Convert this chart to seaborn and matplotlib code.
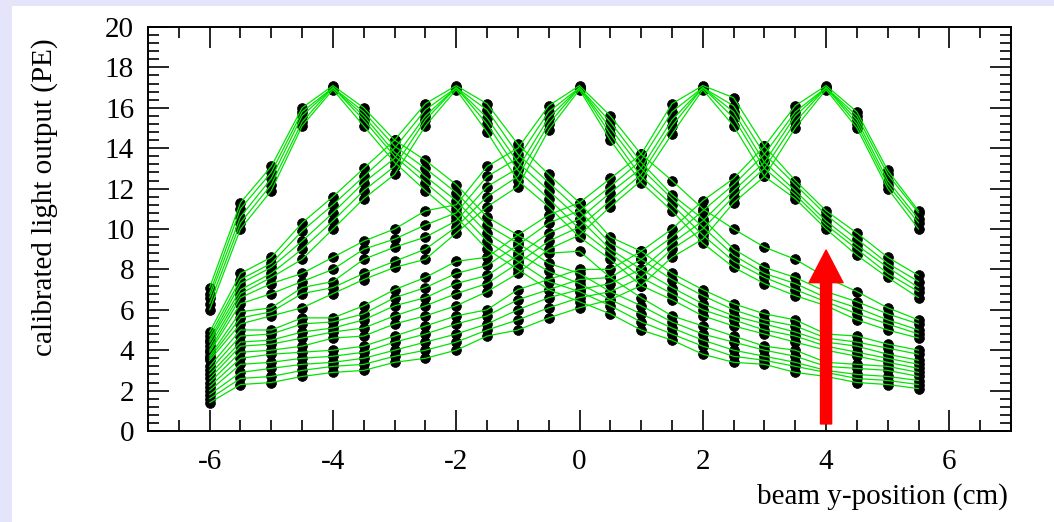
import numpy as np
import pandas as pd
import matplotlib
matplotlib.use("Agg")
import matplotlib.pyplot as plt
from matplotlib.patches import Rectangle, FancyArrowPatch
from matplotlib.ticker import MultipleLocator
import seaborn as sns

# beam positions (cm) at which the light output was measured
positions = [-6.0, -5.5, -5.0, -4.5, -4.0, -3.5, -3.0, -2.5, -2.0, -1.5, -1.0, -0.5,
             0.0, 0.5, 1.0, 1.5, 2.0, 2.5, 3.0, 3.5, 4.0, 4.5, 5.0, 5.5]

# calibrated light output (PE) per readout channel, grouped by the fibre
# position the channel peaks at
fibre_m4 = [
    [6.0, 10.0, 11.9, 15.1, 16.9, 15.1, 13.3, 11.9, 10.6, 9.0, 8.0, 7.0, 6.4, 5.8, 5.0, 4.5, 3.8, 3.4, 3.3, 2.9, 2.7, 2.4, 2.3, 2.1],
    [6.3, 10.3, 12.2, 15.3, 17.0, 15.4, 13.6, 12.3, 11.0, 9.4, 8.4, 7.4, 6.9, 6.2, 5.4, 4.8, 4.2, 3.7, 3.5, 3.2, 2.9, 2.6, 2.5, 2.3],
    [6.6, 10.6, 12.5, 15.6, 17.0, 15.6, 13.8, 12.6, 11.4, 9.8, 8.8, 7.9, 7.3, 6.5, 5.8, 5.1, 4.5, 4.0, 3.7, 3.4, 3.0, 2.8, 2.7, 2.5],
    [6.8, 11.0, 12.8, 15.8, 17.0, 15.8, 14.1, 13.0, 11.8, 10.2, 9.3, 8.3, 7.8, 6.9, 6.2, 5.4, 4.8, 4.4, 4.0, 3.7, 3.2, 3.1, 3.0, 2.7],
    [7.1, 11.3, 13.1, 16.0, 17.1, 16.0, 14.4, 13.4, 12.2, 10.6, 9.7, 8.8, 8.9, 7.6, 6.6, 5.7, 5.2, 4.7, 4.2, 4.0, 3.4, 3.3, 3.2, 2.9],
]
fibre_m2 = [
    [4.2, 6.8, 7.6, 8.5, 10.0, 11.5, 12.7, 15.1, 16.9, 14.8, 12.4, 11.1, 9.6, 8.5, 7.2, 6.5, 5.7, 5.2, 4.8, 4.4, 4.0, 3.7, 3.4, 3.1],
    [4.4, 7.0, 7.8, 9.0, 10.4, 11.9, 13.1, 15.4, 17.0, 15.2, 12.9, 11.5, 10.0, 8.8, 7.6, 6.8, 6.0, 5.5, 5.0, 4.7, 4.2, 3.9, 3.6, 3.3],
    [4.5, 7.3, 8.1, 9.4, 10.8, 12.3, 13.5, 15.6, 17.0, 15.5, 13.3, 11.9, 10.5, 9.0, 8.0, 7.1, 6.3, 5.7, 5.3, 4.9, 4.4, 4.2, 3.8, 3.5],
    [4.7, 7.5, 8.3, 9.9, 11.2, 12.6, 14.0, 15.9, 17.0, 15.9, 13.7, 12.3, 10.9, 9.3, 8.5, 7.5, 6.7, 6.0, 5.5, 5.2, 4.6, 4.4, 4.1, 3.8],
    [4.9, 7.8, 8.6, 10.3, 11.6, 13.0, 14.4, 16.2, 17.1, 16.2, 14.2, 12.7, 11.3, 9.6, 8.9, 7.8, 7.0, 6.3, 5.8, 5.5, 4.8, 4.7, 4.3, 4.0],
]
fibre_0 = [
    [3.5, 5.3, 5.7, 6.1, 6.8, 7.5, 8.1, 8.5, 9.8, 11.1, 12.1, 14.9, 16.9, 14.4, 12.3, 10.9, 9.3, 8.1, 7.3, 6.7, 6.2, 5.5, 5.0, 4.6],
    [3.6, 5.6, 5.9, 6.8, 7.1, 7.8, 8.4, 9.0, 10.1, 11.6, 12.6, 15.2, 17.0, 14.7, 12.6, 11.2, 9.7, 8.4, 7.6, 7.0, 6.4, 5.8, 5.3, 4.8],
    [3.7, 5.9, 6.1, 7.1, 7.4, 8.5, 9.1, 9.6, 10.4, 12.1, 13.0, 15.5, 17.0, 15.0, 13.0, 11.5, 10.1, 8.7, 7.8, 7.3, 6.6, 6.1, 5.5, 5.0],
    [3.9, 6.3, 6.8, 7.4, 8.0, 9.0, 9.5, 10.2, 10.8, 12.6, 13.5, 15.8, 17.0, 15.3, 13.3, 11.7, 10.5, 9.0, 8.1, 7.6, 6.9, 6.4, 5.8, 5.3],
    [4.0, 6.6, 7.3, 7.8, 8.6, 9.4, 10.0, 10.9, 11.2, 13.1, 14.0, 16.1, 17.1, 15.6, 13.7, 12.4, 11.0, 10.0, 9.1, 8.5, 7.6, 6.9, 6.1, 5.5],
]
fibre_p2 = [
    [2.4, 3.9, 4.0, 4.2, 4.6, 4.7, 5.3, 5.7, 6.2, 6.9, 7.8, 9.0, 9.7, 11.1, 12.4, 14.7, 16.9, 15.1, 12.6, 11.5, 10.0, 8.7, 7.6, 6.6],
    [2.6, 4.2, 4.3, 4.6, 4.9, 5.1, 5.7, 6.2, 6.8, 7.3, 8.3, 9.4, 10.1, 11.4, 12.7, 15.1, 17.0, 15.5, 13.0, 11.7, 10.2, 9.0, 7.8, 6.9],
    [2.8, 4.4, 4.5, 4.9, 5.1, 5.5, 6.2, 6.6, 7.3, 7.7, 8.7, 9.8, 10.5, 11.8, 13.0, 15.4, 17.0, 15.8, 13.3, 11.9, 10.4, 9.2, 8.1, 7.1],
    [3.0, 4.7, 4.8, 5.3, 5.4, 5.8, 6.6, 7.1, 7.8, 8.2, 9.2, 10.3, 10.9, 12.1, 13.4, 15.8, 17.0, 16.1, 13.7, 12.2, 10.7, 9.5, 8.3, 7.4],
    [3.2, 5.0, 5.0, 5.6, 5.6, 6.2, 7.0, 7.6, 8.4, 8.6, 9.7, 10.7, 11.3, 12.5, 13.7, 16.2, 17.1, 16.5, 14.1, 12.4, 10.9, 9.8, 8.6, 7.7],
]
fibre_p4 = [
    [1.4, 2.3, 2.4, 2.7, 2.9, 3.0, 3.4, 3.6, 4.0, 4.7, 5.0, 5.6, 6.1, 6.5, 7.2, 8.6, 9.5, 11.3, 12.6, 15.0, 16.9, 15.0, 12.0, 10.0],
    [1.6, 2.6, 2.7, 3.0, 3.2, 3.3, 3.7, 4.0, 4.4, 5.0, 5.5, 6.1, 6.6, 6.9, 7.6, 9.0, 10.0, 11.6, 13.0, 15.3, 17.0, 15.2, 12.2, 10.3],
    [1.8, 2.9, 3.1, 3.3, 3.4, 3.6, 4.0, 4.4, 4.8, 5.3, 6.0, 6.6, 7.0, 7.3, 8.0, 9.3, 10.4, 11.9, 13.3, 15.6, 17.0, 15.4, 12.4, 10.5],
    [2.0, 3.3, 3.4, 3.6, 3.7, 3.9, 4.4, 4.8, 5.3, 5.7, 6.5, 7.0, 7.5, 7.6, 8.5, 9.6, 10.9, 12.2, 13.7, 15.8, 17.0, 15.6, 12.7, 10.8],
    [2.2, 3.6, 3.8, 3.9, 4.0, 4.2, 4.7, 5.2, 5.7, 6.0, 7.0, 7.5, 8.0, 8.0, 8.9, 10.0, 11.4, 12.5, 14.1, 16.1, 17.1, 15.8, 12.9, 10.9],
]

fibre_groups = {"-4": fibre_m4, "-2": fibre_m2, "0": fibre_0, "2": fibre_p2, "4": fibre_p4}

# marked beam position
arrow_x = 4.0
arrow_from = 0.35
arrow_to = 8.96

# long-form table: one row per (channel, position)
rows = []
for fibre, channels in fibre_groups.items():
    for i, values in enumerate(channels):
        for x, v in zip(positions, values):
            rows.append({"channel": f"{fibre}_{i}", "pos": x, "pe": v})
df = pd.DataFrame(rows)

sns.set_theme(style="white")
plt.rcParams["font.family"] = ["Liberation Serif", "DejaVu Serif"]
plt.rcParams["axes.unicode_minus"] = False
plt.rcParams["text.color"] = "black"

W, H, DPI = 1054, 522, 100
fig = plt.figure(figsize=(W / DPI, H / DPI), dpi=DPI)
fig.patch.set_facecolor("#e4e4fa")
# white canvas pad inside the lavender frame
fig.add_artist(Rectangle((12 / W, 0), 1 - 12 / W, 1 - 6 / H, transform=fig.transFigure,
                         facecolor="white", edgecolor="none", zorder=-10))

ax = fig.add_axes([148 / W, 1 - 431 / H, (1011 - 148) / W, (431 - 27) / H])
ax.set_zorder(2)
ax.set_facecolor("white")

sns.scatterplot(data=df, x="pos", y="pe", color="black", s=50, marker="o",
                edgecolor="black", linewidth=0.5, ax=ax, zorder=2, legend=False)
sns.lineplot(data=df, x="pos", y="pe", units="channel", estimator=None,
             color="#00e400", linewidth=0.9, ax=ax, zorder=3, legend=False)

ax.set_xlim(-7, 7)
ax.set_ylim(0, 20)
ax.xaxis.set_major_locator(MultipleLocator(2))
ax.xaxis.set_minor_locator(MultipleLocator(0.5))
ax.yaxis.set_major_locator(MultipleLocator(2))
ax.yaxis.set_minor_locator(MultipleLocator(0.4))
ax.tick_params(which="both", direction="in", top=True, right=True, bottom=True, left=True,
               colors="black", labelcolor="black", width=1.2, labelsize=21)
ax.tick_params(axis="x", which="major", length=15, pad=13)
ax.tick_params(axis="y", which="major", length=15, pad=10)
ax.tick_params(which="minor", length=8)
for sp in ax.spines.values():
    sp.set_visible(True)
    sp.set_color("black")
    sp.set_linewidth(1.4)

ax.set_xlabel("")
ax.set_ylabel("")
fig.text(1008 / W, 1 - 497 / H, "beam y-position (cm)", ha="right", va="center",
         fontsize=21, color="black")
fig.text(45 / W, 1 - 197 / H, "calibrated light output (PE)", ha="center", va="center",
         rotation=90, fontsize=21, color="black")

arrow = FancyArrowPatch((arrow_x, arrow_from), (arrow_x, arrow_to),
                        arrowstyle="simple,head_width=24.5,head_length=23.5,tail_width=8",
                        mutation_scale=1, color="#ff0000", shrinkA=0, shrinkB=0, zorder=5)
ax.add_patch(arrow)

fig.savefig("out.png", dpi=DPI, facecolor=fig.get_facecolor())
